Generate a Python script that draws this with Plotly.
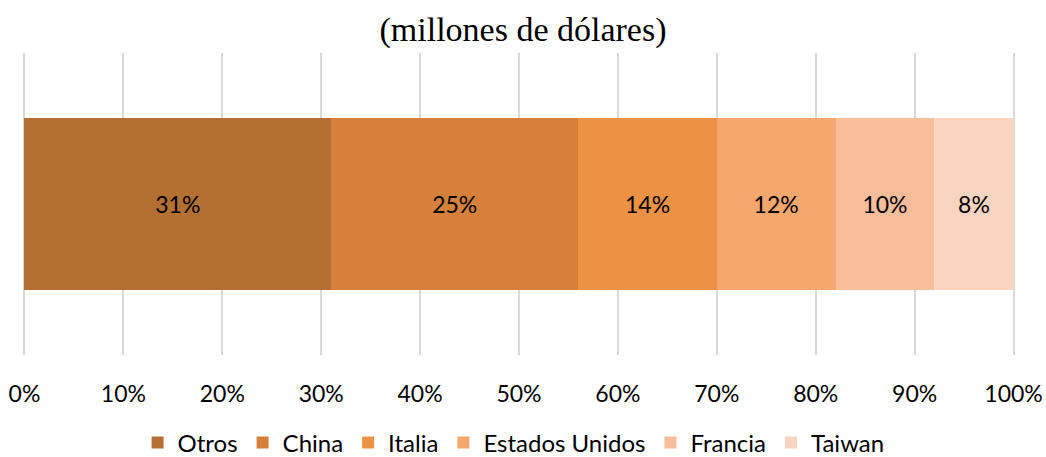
import plotly.graph_objects as go

countries = ["Otros", "China", "Italia", "Estados Unidos", "Francia", "Taiwan"]
shares = [31, 25, 14, 12, 10, 8]
colors = ["#B46F33", "#D5813B", "#ED9245", "#F5A76E", "#F8BE9B", "#F9D4C1"]
tick_vals = [0, 10, 20, 30, 40, 50, 60, 70, 80, 90, 100]
title_text = "(millones de dólares)"

fig = go.Figure()
for name, val, col in zip(countries, shares, colors):
    fig.add_trace(go.Bar(
        y=[""], x=[val], name=name, orientation="h",
        marker=dict(color=col, line=dict(width=0)),
        text=[f"{val}%"], textposition="inside", insidetextanchor="middle",
        textfont=dict(color="#000000", size=23, family="Lato"),
        hoverinfo="skip",
    ))

fig.update_layout(
    barmode="stack",
    bargap=0.43,
    width=1046, height=457,
    margin=dict(l=22, r=30, t=53, b=102),
    paper_bgcolor="white", plot_bgcolor="white",
    title=dict(text=title_text, x=0.5, xanchor="center", y=0.937, yanchor="middle",
               font=dict(family="Liberation Serif", size=34, color="#000000")),
    xaxis=dict(range=[-0.25, 100.25], tickvals=tick_vals, ticktext=[f"{v}%" for v in tick_vals],
               showgrid=True, gridcolor="#D9D9D9", gridwidth=1.5, zeroline=False,
               showline=False, ticks="", ticklen=0, ticklabelstandoff=23,
               automargin=False,
               tickfont=dict(family="Lato", size=23, color="#000000")),
    yaxis=dict(showticklabels=False, showgrid=False, zeroline=False, showline=False,
               automargin=False),
    legend=dict(orientation="h", x=0.491, xanchor="center", xref="container",
                y=0.031, yanchor="middle", yref="container",
                font=dict(family="Lato", size=24, color="#000000"),
                traceorder="normal", itemwidth=30),
    showlegend=True,
)
fig.write_html("out.html", config={"displayModeBar": False},
               post_script="document.body.style.margin='0';document.body.style.padding='0';")
